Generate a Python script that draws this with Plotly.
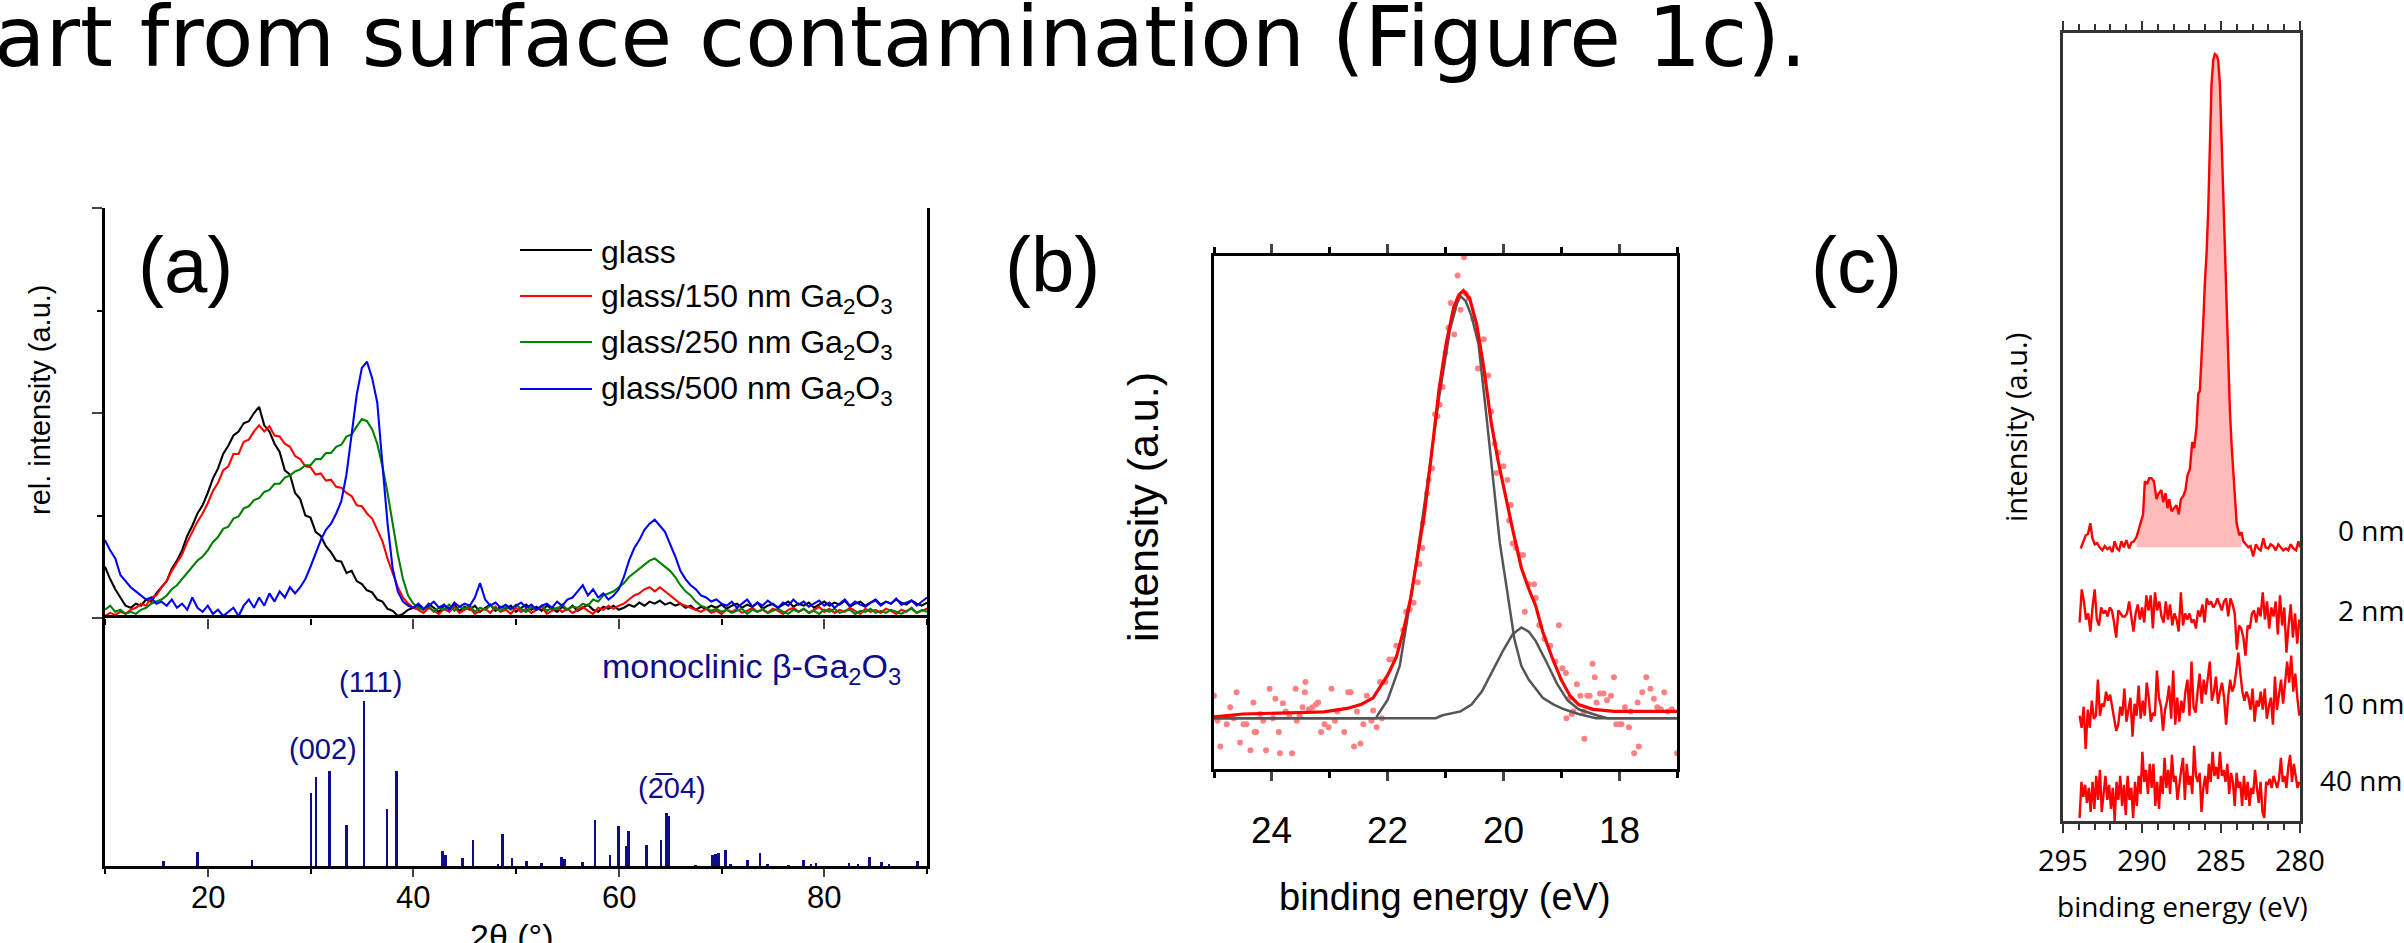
import numpy as np
import plotly.graph_objects as go

W, H = 2404, 943
def PX(x): return x / W
def PY(y): return 1 - y / H

ARIAL = "Liberation Sans, Arial, sans-serif"
OPEN = "Open Sans, DejaVu Sans, sans-serif"

# ================= Panel (a): XRD =================
TWO_THETA_START = 10.0
TWO_THETA_STEP = 0.5
xrd_glass = [
0.50,0.38,0.28,0.20,0.12,0.10,0.14,0.12,0.18,0.16,0.24,
0.30,0.36,0.48,0.56,0.66,0.80,0.90,1.02,1.10,1.22,
1.36,1.46,1.60,1.68,1.78,1.82,1.90,1.92,2.00,2.06,
1.88,1.82,1.70,1.62,1.44,1.40,1.22,1.16,1.00,0.98,
0.84,0.80,0.70,0.64,0.56,0.55,0.44,0.46,0.36,0.33,
0.27,0.25,0.18,0.16,0.09,0.07,0.02,0.04,0.08,0.10,
0.12,0.08,0.14,0.10,0.06,0.12,0.09,0.13,0.07,0.11,
0.08,0.12,0.06,0.10,0.13,0.07,0.11,0.09,0.12,0.06,
0.10,0.13,0.08,0.11,0.07,0.12,0.09,0.06,0.11,0.08,
0.12,0.07,0.10,0.13,0.08,0.06,0.11,0.09,0.12,0.08,
0.10,0.13,0.11,0.15,0.12,0.16,0.14,0.17,0.13,0.15,
0.12,0.14,0.10,0.12,0.08,0.11,0.09,0.12,0.10,0.13,
0.09,0.12,0.14,0.10,0.13,0.11,0.15,0.09,0.12,0.14,
0.10,0.13,0.16,0.11,0.14,0.12,0.15,0.10,0.13,0.16,
0.12,0.15,0.13,0.17,0.11,0.14,0.16,0.12,0.15,0.18,
0.13,0.16,0.14,0.18,0.15,0.13,0.17,0.14,0.12,0.15]
xrd_150 = [
0.02,0.05,0.03,0.06,0.04,0.08,0.10,0.14,0.12,0.20,0.22,
0.30,0.36,0.46,0.54,0.62,0.74,0.84,0.94,1.02,1.12,
1.24,1.32,1.44,1.48,1.60,1.60,1.72,1.74,1.82,1.88,
1.82,1.87,1.78,1.77,1.70,1.67,1.58,1.55,1.48,1.47,
1.40,1.41,1.34,1.35,1.28,1.27,1.22,1.19,1.10,1.09,
1.02,0.97,0.86,0.75,0.58,0.45,0.30,0.20,0.14,0.10,
0.08,0.05,0.10,0.07,0.04,0.09,0.06,0.11,0.05,0.08,
0.10,0.04,0.07,0.09,0.05,0.11,0.06,0.08,0.04,0.10,
0.06,0.09,0.05,0.08,0.11,0.04,0.07,0.10,0.06,0.09,
0.05,0.08,0.11,0.07,0.04,0.10,0.08,0.12,0.09,0.12,
0.14,0.18,0.22,0.24,0.28,0.30,0.26,0.30,0.26,0.22,
0.18,0.14,0.12,0.10,0.08,0.06,0.09,0.05,0.07,0.04,
0.08,0.06,0.09,0.05,0.07,0.10,0.06,0.08,0.05,0.09,
0.07,0.04,0.08,0.10,0.06,0.09,0.05,0.08,0.11,0.06,
0.09,0.05,0.08,0.06,0.10,0.07,0.04,0.09,0.06,0.08,
0.05,0.09,0.07,0.04,0.08,0.06,0.10,0.05,0.07,0.09]
xrd_250 = [
0.08,0.12,0.06,0.08,0.04,0.06,0.04,0.08,0.10,0.14,0.16,
0.18,0.22,0.28,0.32,0.38,0.44,0.50,0.56,0.60,0.66,
0.74,0.79,0.87,0.89,0.97,0.99,1.07,1.09,1.15,1.17,
1.23,1.25,1.31,1.31,1.37,1.39,1.43,1.45,1.49,1.49,
1.55,1.55,1.61,1.61,1.67,1.69,1.77,1.79,1.87,1.94,
1.92,1.84,1.70,1.48,1.22,0.90,0.62,0.38,0.22,0.14,
0.10,0.08,0.12,0.06,0.10,0.08,0.13,0.07,0.11,0.09,
0.12,0.06,0.10,0.08,0.12,0.09,0.07,0.11,0.08,0.13,
0.09,0.06,0.11,0.08,0.12,0.07,0.10,0.09,0.13,0.08,
0.11,0.10,0.14,0.12,0.18,0.16,0.22,0.24,0.26,0.30,
0.34,0.40,0.44,0.48,0.52,0.56,0.58,0.54,0.50,0.46,
0.40,0.32,0.26,0.22,0.16,0.12,0.10,0.07,0.09,0.06,
0.08,0.05,0.07,0.09,0.04,0.08,0.06,0.09,0.05,0.07,
0.09,0.06,0.04,0.08,0.06,0.09,0.05,0.07,0.04,0.08,
0.06,0.09,0.05,0.07,0.08,0.04,0.07,0.06,0.09,0.05,
0.07,0.05,0.08,0.06,0.04,0.07,0.09,0.05,0.08,0.06]
xrd_500 = [
0.76,0.66,0.58,0.42,0.36,0.30,0.26,0.22,0.18,0.20,0.14,
0.16,0.12,0.18,0.10,0.14,0.08,0.20,0.10,0.06,0.12,
0.04,0.08,0.02,0.06,0.10,0.02,0.12,0.18,0.10,0.20,
0.12,0.24,0.16,0.26,0.20,0.30,0.24,0.30,0.38,0.50,
0.64,0.76,0.86,0.92,1.02,1.14,1.40,1.78,2.18,2.44,
2.50,2.34,2.10,1.50,0.92,0.48,0.26,0.16,0.12,0.10,
0.14,0.09,0.12,0.16,0.10,0.13,0.08,0.15,0.11,0.14,
0.12,0.20,0.34,0.18,0.12,0.15,0.10,0.13,0.09,0.12,
0.15,0.10,0.13,0.08,0.12,0.14,0.10,0.16,0.12,0.18,
0.20,0.26,0.32,0.22,0.28,0.20,0.24,0.18,0.22,0.28,
0.40,0.56,0.68,0.76,0.86,0.92,0.96,0.90,0.84,0.72,
0.60,0.46,0.38,0.32,0.28,0.22,0.20,0.16,0.18,0.14,
0.12,0.16,0.10,0.14,0.18,0.11,0.15,0.12,0.17,0.13,
0.10,0.15,0.12,0.18,0.13,0.16,0.11,0.14,0.17,0.12,
0.15,0.10,0.14,0.18,0.12,0.16,0.13,0.11,0.15,0.17,
0.12,0.16,0.14,0.19,0.13,0.15,0.17,0.12,0.16,0.20]
xrd_names = ["glass", "glass/150 nm Ga<sub>2</sub>O<sub>3</sub>",
             "glass/250 nm Ga<sub>2</sub>O<sub>3</sub>", "glass/500 nm Ga<sub>2</sub>O<sub>3</sub>"]
xrd_colors = ["#000000", "#ff0000", "#008000", "#0000ff"]
xrd_ticks = [20, 40, 60, 80]

# reference pattern (monoclinic beta-Ga2O3)
ref_pos = [15.7,19.0,24.3,30.05,30.55,31.85,33.5,35.2,37.45,38.4,42.85,43.15,44.8,45.8,48.25,
           48.7,49.6,51.0,52.5,54.45,54.7,56.5,57.7,59.15,59.95,60.7,60.95,62.7,64.1,64.65,64.9,
           67.5,69.1,69.4,69.7,70.4,70.9,72.55,73.75,74.5,76.5,78.0,78.7,79.2,82.4,83.3,84.4,85.6,86.3,89.1]
ref_int = [3.3,8.4,3.7,44.4,53.6,57.2,25.0,100,34.6,57.2,8.8,6.7,4.7,15.5,1.2,
           19.3,4.7,3.3,1.6,5.3,4.0,2.6,28.1,6.7,24.4,12.4,21.0,12.8,15.5,31.8,30.1,
           0.6,6.7,7.3,7.7,9.8,1.2,3.7,7.7,1.2,0.6,3.7,1.2,1.6,1.6,1.2,5.7,2.2,1.2,3.3]
hkl_text = ["(002)", "(111)", "(2\u030504)"]
hkl_x = [31.2, 35.8, 65.15]
hkl_y = [71, 111, 47]

# ================= Panel (b): valence band =================
vb_ticks = [24, 22, 20, 18]
vb_fit_e = [25.0,24.5,23.1,22.7,22.45,22.25,22.1,22.0,21.85,21.73,21.6,21.48,21.36,21.23,21.11,20.99,
            20.86,20.77,20.69,20.58,20.46,20.34,20.21,20.09,19.97,19.84,19.69,19.56,19.44,19.32,19.16,
            19.0,18.85,18.7,18.45,18.08,17.0]
vb_fit_i = [0.0,0.007,0.012,0.02,0.03,0.045,0.077,0.098,0.14,0.2,0.28,0.375,0.48,0.63,0.77,0.875,
            0.96,0.99,1.0,0.98,0.92,0.82,0.69,0.6,0.52,0.44,0.35,0.3,0.26,0.2,0.14,
            0.087,0.05,0.029,0.018,0.013,0.013]
vb_c1_e = [25.0,22.2,22.16,22.0,21.79,21.54,21.29,21.11,20.92,20.8,20.74,20.65,20.55,20.43,20.3,20.18,
           20.06,19.94,19.87,19.81,19.69,19.56,19.44,19.32,19.13,18.95,18.7,18.4,17.0]
vb_c1_i = [-0.003,-0.003,0.007,0.04,0.12,0.33,0.57,0.75,0.91,0.97,0.987,0.975,0.94,0.875,0.715,0.556,
           0.407,0.3,0.236,0.183,0.12,0.087,0.066,0.045,0.029,0.018,0.007,-0.003,-0.003]
vb_c2_e = [25.0,21.17,21.05,20.74,20.55,20.37,20.18,20.0,19.84,19.69,19.56,19.44,19.26,19.07,18.89,
           18.7,18.39,18.2,17.0]
vb_c2_i = [-0.003,-0.003,0.004,0.013,0.029,0.06,0.11,0.157,0.194,0.21,0.2,0.178,0.13,0.077,0.039,
           0.018,0.004,-0.003,-0.003]
vb_pts_e = [25.00,24.94,24.89,24.78,24.72,24.66,24.61,24.55,24.49,24.44,24.37,24.32,24.30,24.27,24.20,
            24.15,24.10,24.04,23.98,23.94,23.88,23.86,23.81,23.76,23.70,23.65,23.59,23.57,23.52,23.47,
            23.42,23.43,23.36,23.30,23.24,23.20,23.15,23.09,23.02,22.97,22.91,22.87,22.75,22.68,22.64,
            22.58,22.53,22.47,22.42,22.36,22.28,22.25,22.19,22.13,22.10,22.04,21.97,21.91,21.85,21.73,
            21.68,21.62,21.55,21.48,21.45,21.40,21.39,21.32,21.29,21.23,21.18,21.14,21.10,21.05,21.00,
            20.95,20.91,20.85,20.79,20.74,20.68,20.65,20.60,20.52,20.44,20.34,20.31,20.26,20.21,20.15,
            20.12,20.09,20.00,19.93,19.90,19.87,19.84,19.78,19.72,19.66,19.63,19.56,19.47,19.44,19.38,
            19.29,19.19,19.10,19.04,18.98,18.92,18.91,18.85,18.82,18.79,18.73,18.67,18.61,18.60,18.55,
            18.51,18.46,18.42,18.39,18.33,18.27,18.21,18.14,18.09,18.05,17.99,17.96,17.90,17.83,17.80,
            17.74,17.68,17.66,17.60,17.53,17.46,17.40,17.34,17.28,17.22,17.16,17.09,17.00]
vb_pts_i = [0.050,-0.009,-0.069,-0.017,0.023,-0.003,0.058,-0.060,-0.017,-0.017,-0.078,0.034,-0.035,-0.035,0.007,
            -0.009,-0.078,0.066,-0.003,0.043,-0.035,-0.085,0.032,0.013,0.002,-0.085,0.066,-0.009,0.002,0.023,
            0.082,0.058,0.018,0.023,0.029,0.034,-0.035,-0.017,-0.024,0.066,-0.009,0.013,-0.035,0.058,0.058,
            -0.069,0.013,-0.062,-0.017,0.050,-0.009,0.015,-0.024,0.082,-0.003,0.082,0.135,0.135,0.167,0.204,
            0.247,0.252,0.268,0.316,0.359,0.396,0.455,0.524,0.556,0.583,0.710,0.705,0.732,0.774,0.854,
            0.913,0.971,0.897,1.035,0.955,1.078,0.993,0.982,0.934,0.817,0.886,0.801,0.801,0.716,0.641,
            0.572,0.620,0.588,0.556,0.460,0.497,0.407,0.396,0.380,0.380,0.247,0.311,0.311,0.279,0.215,
            0.183,0.167,0.130,0.215,0.114,0.103,-0.003,0.045,0.007,0.013,0.077,0.050,0.013,-0.051,0.050,
            0.050,0.125,0.093,0.034,0.055,0.055,0.039,0.050,0.093,-0.017,-0.017,-0.017,0.023,-0.024,0.013,
            -0.085,0.034,-0.069,0.058,0.093,0.066,0.043,0.023,0.018,0.058,0.013,0.018,-0.085]

# ================= Panel (c): C 1s depth profile =================
c1s_ticks = [295, 290, 285, 280]
c1s_0nm_e = [293.88,293.73,293.56,293.42,293.27,293.14,292.99,292.84,292.68,292.51,
             292.36,292.19,292.04,291.87,291.73,291.58,291.45,291.30,291.15,290.99,
             290.82,290.67,290.52,290.35,290.20,290.08,289.93,289.82,289.68,289.55,
             289.40,289.25,289.08,288.94,288.77,288.66,288.51,288.39,288.28,288.13,
             287.96,287.82,287.67,287.54,287.39,287.25,287.12,286.97,286.82,286.70,
             286.55,286.44,286.34,286.23,286.13,286.02,285.91,285.81,285.70,285.60,
             285.49,285.39,285.28,285.18,285.07,284.96,284.86,284.75,284.65,284.54,
             284.44,284.33,284.22,284.12,284.01,283.84,283.70,283.59,283.44,283.27,
             283.13,282.96,282.79,282.64,282.49,282.32,282.18,282.01,281.86,281.69,
             281.54,281.37,281.22,281.06,280.89,280.74,280.59,280.42,280.25,280.10,280.00]
c1s_0nm_i = [453,465,475,477,495,470,460,462,455,450,
             457,452,455,447,465,453,450,465,455,467,
             453,463,465,472,485,497,510,565,560,570,
             570,565,535,545,550,530,545,520,535,515,
             520,525,510,535,540,550,575,585,630,620,
             655,710,715,765,825,895,945,1015,1115,1225,
             1265,1275,1273,1265,1225,1135,1035,935,845,765,
             685,625,575,525,495,475,480,465,460,455,
             457,440,460,453,450,470,455,453,460,457,
             450,460,455,450,453,450,460,453,450,465,455]
C1S_BASELINE = 455
FILL_FROM, FILL_TO = 290.4, 283.65
NOISY_E_START, NOISY_E_END = 293.95, 280.04
c1s_2nm_i = [330,385,365,335,345,315,355,385,335,325, 355,345,350,340,355,350,330,305,350,345,
             340,340,345,365,335,315,345,360,335,355, 330,375,350,375,320,380,350,365,340,330,
             365,335,360,325,345,335,315,380,325,345, 335,345,330,335,320,350,340,360,330,370,
             360,365,355,360,370,360,350,365,370,340, 370,360,345,285,325,320,305,275,325,320,
             345,350,330,355,340,380,335,365,320,355, 340,365,310,375,325,355,280,325,360,305,
             345,295,335]
c1s_10nm_i = [175,155,190,120,185,155,200,170,175,235, 175,195,190,215,200,210,190,170,150,160,
              190,175,220,165,185,205,140,195,175,225, 170,200,175,230,205,165,180,175,250,205,
              190,150,185,200,225,170,250,160,205,165, 200,180,215,235,175,265,190,180,215,245,
              195,235,210,235,265,200,215,240,195,215, 230,205,160,205,235,215,225,250,280,245,
              215,200,215,205,185,220,165,200,190,215, 185,220,170,190,205,160,240,185,215,235,
              195,225,265,230,275,215,245,205,175]
c1s_40nm_i = [5,65,40,60,30,55,15,65,20,75, 35,85,15,45,75,35,60,20,55,0,
              65,35,75,25,60,10,75,35,55,5, 65,25,75,45,115,65,85,45,95,55,
              95,25,65,20,75,45,105,55,85,45, 110,65,75,35,65,85,105,35,95,60,
              75,45,125,75,65,80,15,55,75,45, 95,65,115,75,90,70,115,75,85,65,
              95,45,80,65,25,80,55,65,25,75, 35,65,25,55,45,85,55,30,65,15,
              5,65,60,70,55,75,65,55,70,105, 65,75,55,90,110,65,95,75,55,65]
depth_labels = ["0 nm", "2 nm", "10 nm", "40 nm"]
depth_label_y = [484, 351, 196, 68]
depth_label_left = [2336, 2336, 2320, 2318]

fig = go.Figure()

# ---- (a) upper: XRD curves
two_theta = TWO_THETA_START + TWO_THETA_STEP * np.arange(len(xrd_glass))
for ys, nm, col in zip([xrd_glass, xrd_150, xrd_250, xrd_500], xrd_names, xrd_colors):
    fig.add_trace(go.Scatter(x=two_theta, y=ys, mode="lines", name=nm,
                             line=dict(color=col, width=2.1), xaxis="x", yaxis="y", showlegend=False))
# ---- (a) lower: reference sticks
fig.add_trace(go.Bar(x=ref_pos, y=ref_int, width=0.26, marker=dict(color="#0c0c8c", line=dict(width=0)),
                     xaxis="x2", yaxis="y2", showlegend=False, name="beta-Ga2O3"))

# ---- (b)
fig.add_trace(go.Scatter(x=vb_pts_e, y=vb_pts_i, mode="markers", marker=dict(color="#ff8080", size=6),
                         xaxis="x3", yaxis="y3", showlegend=False, name="data"))
fig.add_trace(go.Scatter(x=vb_c1_e, y=vb_c1_i, mode="lines", line=dict(color="#555555", width=2.5),
                         xaxis="x3", yaxis="y3", showlegend=False, name="comp1"))
fig.add_trace(go.Scatter(x=vb_c2_e, y=vb_c2_i, mode="lines", line=dict(color="#555555", width=2.5),
                         xaxis="x3", yaxis="y3", showlegend=False, name="comp2"))
fig.add_trace(go.Scatter(x=vb_fit_e, y=vb_fit_i, mode="lines", line=dict(color="#ff0000", width=3.2),
                         xaxis="x3", yaxis="y3", showlegend=False, name="fit"))

# ---- (c)
e0 = np.array(c1s_0nm_e); i0 = np.array(c1s_0nm_i)
sel = (e0 <= FILL_FROM) & (e0 >= FILL_TO)
fx = list(e0[sel]) + [e0[sel][-1], e0[sel][0]]
fy = list(i0[sel]) + [C1S_BASELINE, C1S_BASELINE]
fig.add_trace(go.Scatter(x=fx, y=fy, fill="toself", fillcolor="rgba(255,0,0,0.27)", mode="none",
                         xaxis="x4", yaxis="y4", showlegend=False, name="area"))
fig.add_trace(go.Scatter(x=c1s_0nm_e, y=c1s_0nm_i, mode="lines", line=dict(color="#ff0000", width=2.4),
                         xaxis="x4", yaxis="y4", showlegend=False, name="0 nm"))
for arr, nm in zip([c1s_2nm_i, c1s_10nm_i, c1s_40nm_i], depth_labels[1:]):
    e = np.linspace(NOISY_E_START, NOISY_E_END, len(arr))
    fig.add_trace(go.Scatter(x=e, y=arr, mode="lines", line=dict(color="#ff0000", width=2.4),
                             xaxis="x4", yaxis="y4", showlegend=False, name=nm))

# ---------- axes ----------
A_X = [PX(105), PX(927)]
A_YU = [PY(618), PY(208)]
A_YL = [PY(866), PY(618)]
B_X = [PX(1214), PX(1677)]
B_Y = [PY(769), PY(256)]
C_X = [PX(2063), PX(2300)]
C_Y = [PY(821), PY(33)]

common = dict(showgrid=False, zeroline=False, linecolor="black")
fig.update_layout(
    xaxis=dict(domain=A_X, range=[10, 90], anchor="y", showline=False,
               ticks="outside", tickmode="linear", tick0=0, dtick=20, ticklen=10, tickwidth=2,
               minor=dict(dtick=10, ticklen=6, ticks="outside", tickwidth=2, tickcolor="black"),
               showticklabels=False, **common),
    yaxis=dict(domain=A_YU, range=[0, 4], anchor="x", showline=True, linewidth=2.5, mirror=True,
               ticks="outside", tickmode="linear", tick0=0, dtick=2, ticklen=10, tickwidth=2,
               minor=dict(dtick=1, ticklen=5, ticks="outside", tickwidth=2, tickcolor="black"),
               showticklabels=False, **common),
    xaxis5=dict(overlaying="x", side="top", anchor="y", range=[10, 90], showline=True, linewidth=2.5,
                ticks="inside", tickmode="linear", tick0=0, dtick=20, ticklen=10, tickwidth=2,
                minor=dict(dtick=10, ticklen=8, ticks="inside", tickwidth=2, tickcolor="black"),
                showticklabels=False, **common),
    yaxis5=dict(overlaying="y", side="right", anchor="x", range=[0, 4], showline=False,
                ticks="inside", tickmode="linear", tick0=0, dtick=2, ticklen=11, tickwidth=2,
                minor=dict(dtick=1, ticklen=6, ticks="inside", tickwidth=2, tickcolor="black"),
                showticklabels=False, **common),
    xaxis2=dict(domain=A_X, range=[10, 90], anchor="y2", showline=True, linewidth=2.5, mirror=True,
                ticks="outside", tickmode="linear", tick0=0, dtick=20, ticklen=8, tickwidth=2,
                minor=dict(dtick=10, ticklen=5, ticks="outside", tickwidth=2, tickcolor="black"),
                showticklabels=False, **common),
    yaxis2=dict(domain=A_YL, range=[0, 150], anchor="x2", showline=True, linewidth=2.5, mirror=True,
                ticks="", showticklabels=False, **common),
    xaxis3=dict(domain=B_X, range=[25, 17], anchor="y3", showline=True, linewidth=3, mirror="allticks",
                ticks="outside", tickmode="linear", tick0=0, dtick=2, ticklen=9, tickwidth=2.5,
                minor=dict(dtick=1, ticklen=6, ticks="outside", tickwidth=2.5, tickcolor="black"),
                showticklabels=False, **common),
    yaxis3=dict(domain=B_Y, range=[-0.122, 1.081], anchor="x3", showline=True, linewidth=3, mirror=True,
                ticks="", showticklabels=False, **common),
    xaxis4=dict(domain=C_X, range=[295, 280], anchor="y4", showline=True, linewidth=2.8, mirror="allticks",
                linecolor="#333333", ticks="outside", tickmode="linear", tick0=0, dtick=5, ticklen=9,
                tickwidth=2, tickcolor="#333333",
                minor=dict(dtick=1, ticklen=6, ticks="outside", tickwidth=2, tickcolor="#333333"),
                showticklabels=False, showgrid=False, zeroline=False),
    yaxis4=dict(domain=C_Y, range=[0, 1310], anchor="x4", showline=True, linewidth=2.8, mirror=True,
                linecolor="#333333", ticks="", showticklabels=False, showgrid=False, zeroline=False),
)

ann = []
def text(x, y, s, size, family=ARIAL, color="black", xanchor="center", yanchor="middle", angle=0,
         xref="paper", yref="paper"):
    ann.append(dict(x=x, y=y, xref=xref, yref=yref, text=s, showarrow=False, xanchor=xanchor,
                    yanchor=yanchor, textangle=angle, font=dict(family=family, size=size, color=color)))

# page text and panel letters
text(PX(-8), PY(37), "art from surface contamination (Figure 1c).", 84, family="DejaVu Sans, sans-serif",
     xanchor="left")
text(PX(185), PY(265), "(a)", 78)
text(PX(1052), PY(265), "(b)", 78)
text(PX(1856), PY(265), "(c)", 78)

# panel (a)
leg_rows = [250, 296, 342, 389]
shapes = []
for nm, col, yy in zip(xrd_names, xrd_colors, leg_rows):
    shapes.append(dict(type="line", xref="paper", yref="paper", x0=PX(520), x1=PX(592), y0=PY(yy), y1=PY(yy),
                       line=dict(color=col, width=2)))
    text(PX(599), PY(yy + 2), nm, 32, xanchor="left")
text(PX(903), PY(668), "monoclinic \u03b2-Ga<sub>2</sub>O<sub>3</sub>", 34, color="#0c0c8c", xanchor="right")
for s, hx, hy in zip(hkl_text, hkl_x, hkl_y):
    text(hx, hy, s, 29, color="#0c0c8c", xref="x2", yref="y2")
for t in xrd_ticks:
    text(t, PY(897), str(t), 31, xref="x2")
text(PX(40), PY(400), "rel. intensity (a.u.)", 29, angle=-90)
text(PX(512), PY(915), "2\u03b8 (\u00b0)", 34, yanchor="top")

# panel (b)
for t in vb_ticks:
    text(t, PY(830), str(t), 37, xref="x3")
text(PX(1143), PY(507), "intensity (a.u.)", 43, angle=-90)
text(PX(1445), PY(897), "binding energy (eV)", 38)

# panel (c)
for t in c1s_ticks:
    text(t, PY(859), str(t), 29, family=OPEN, xref="x4")
text(PX(2015), PY(428), "intensity (a.u.)", 29, family=OPEN, angle=-90)
text(PX(2182), PY(906), "binding energy (eV)", 28, family=OPEN)
for s, yy, xl in zip(depth_labels, depth_label_y, depth_label_left):
    text(PX(xl), yy, s, 28, family=OPEN, xanchor="left", yref="y4")

fig.update_layout(width=W, height=H, margin=dict(l=0, r=0, t=0, b=0), autosize=False,
                  paper_bgcolor="white", plot_bgcolor="rgba(0,0,0,0)", annotations=ann, shapes=shapes,
                  showlegend=False, bargap=0)
fig.write_html("out.html", config={"displayModeBar": False},
               post_script="document.body.style.margin='0px';document.body.style.overflow='hidden';")
